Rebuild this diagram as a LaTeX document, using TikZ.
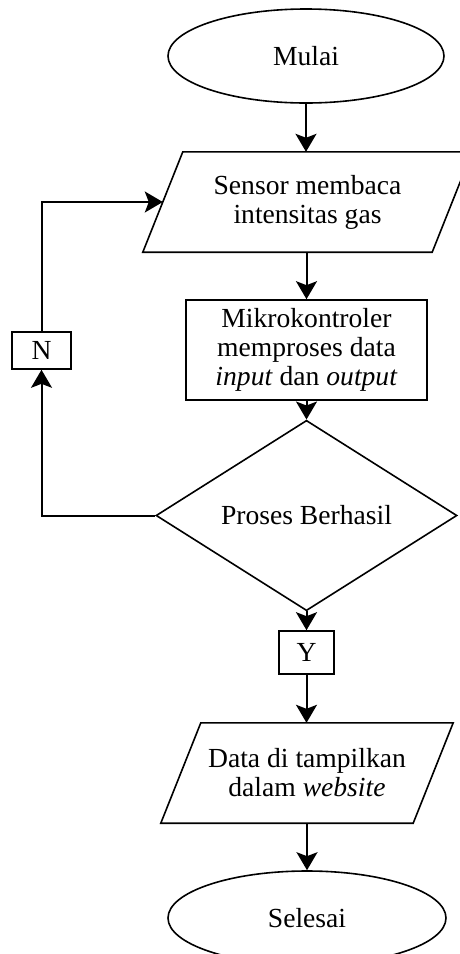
\documentclass[tikz,border=0pt]{standalone}
\usepackage{fontspec}
\setmainfont{Liberation Serif}
\usetikzlibrary{shapes.geometric,arrows.meta}

\begin{document}
\begin{tikzpicture}[x=1pt,y=-1pt,
  every node/.style={font=\fontsize{27.6}{29}\selectfont, align=center, inner sep=0pt},
  outline/.style={draw=black, line width=1.6pt, line join=miter},
  terminal/.style={outline, ellipse, minimum width=276, minimum height=94},
  process/.style={outline, rectangle},
  decision/.style={outline, diamond, minimum width=301, minimum height=133},
  iobody/.style={rectangle, minimum height=100},
  flag/.style={outline, rectangle},
  flow/.style={line width=2pt, -{Stealth[length=18pt,width=21pt,inset=4pt]}},
  link/.style={line width=2pt}
]
  % page
  \fill[white] (0,0) rectangle (459,954);
  \useasboundingbox (0,0) rectangle (459,954);

  % nodes
  \node[terminal] (start) at (306,56) {Mulai};

  \node[iobody, minimum width=289] (read) at (307.5,202)
    {Sensor membaca\\intensitas gas};
  \draw[outline] ([xshift=20]read.north west) -- ([xshift=20]read.north east)
    -- ([xshift=-20]read.south east) -- ([xshift=-20]read.south west) -- cycle;

  \node[process, minimum width=241, minimum height=100] (mcu) at (306.5,350)
    {Mikrokontroler\\memproses data\\\textit{input} dan \textit{output}};

  \node[decision] (ok) at (306.5,515.5) {Proses Berhasil};

  \node[flag, minimum width=59, minimum height=37] (no) at (41.5,350.5) {N};
  \node[flag, minimum width=55, minimum height=43] (yes) at (306.5,652.5) {Y};

  \node[iobody, minimum width=252] (show) at (307,773)
    {Data di tampilkan\\dalam \textit{website}};
  \draw[outline] ([xshift=20]show.north west) -- ([xshift=20]show.north east)
    -- ([xshift=-20]show.south east) -- ([xshift=-20]show.south west) -- cycle;

  \node[terminal, minimum width=278] (stop) at (307,918) {Selesai};

  % connectors
  \draw[flow] (start.south) -- (start.south |- read.north);
  \draw[flow] (read.south -| mcu.north) -- (mcu.north);
  \draw[flow] (mcu.south) -- (ok.north);
  \draw[flow] (ok.south) -- (yes.north);
  \draw[flow] (yes.south) -- (yes.south |- show.north);
  \draw[flow] (show.south -| stop.north) -- (stop.north);

  \draw[flow] (ok.west) -| (no.south);
  \draw[flow] (no.north) |- (read.west);
\end{tikzpicture}
\end{document}
